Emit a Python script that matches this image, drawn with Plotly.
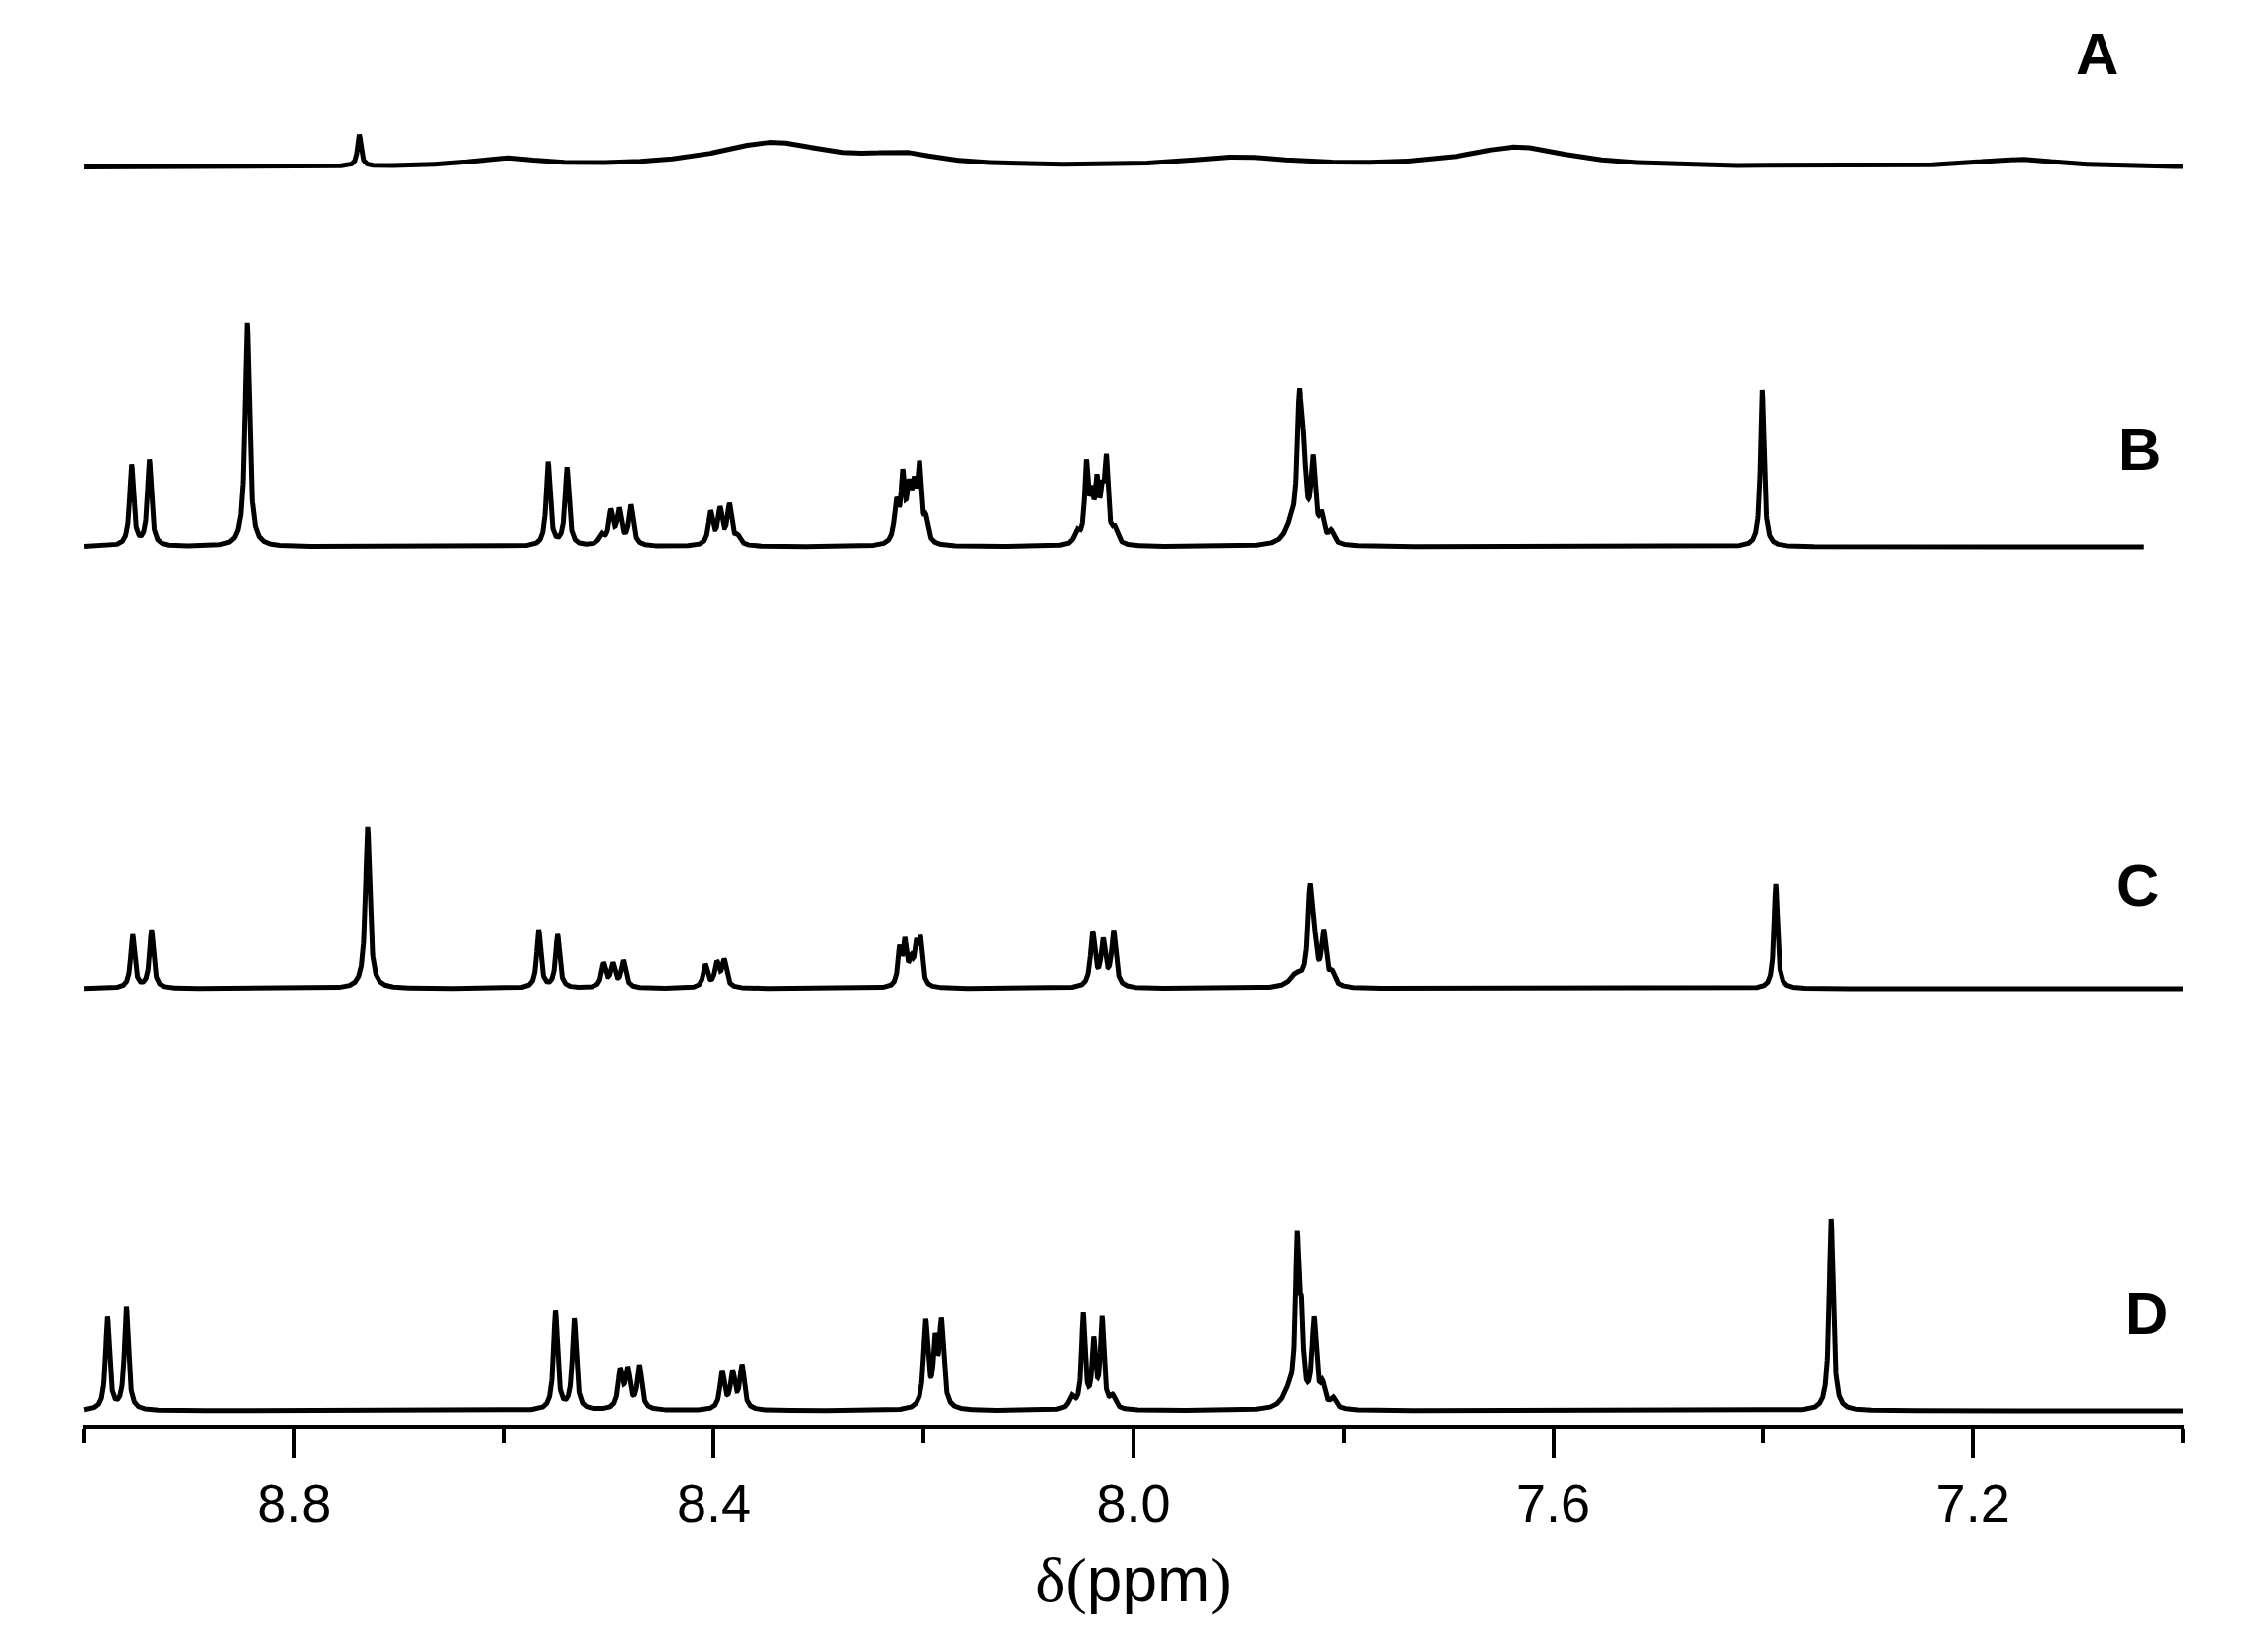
import numpy as np
import plotly.graph_objects as go

# peak lists: position (ppm), height (px-ish units), FWHM (ppm)
A_PPM = [8.738, 8.60, 8.345, 8.22, 7.90, 7.634, 7.158]
A_INT = [32, 8, 24, 10, 9, 20, 8]
A_WID = [0.004, 0.08, 0.13, 0.08, 0.12, 0.12, 0.10]

B_PPM = [8.955, 8.938, 8.845, 8.558, 8.540,
         8.507, 8.498, 8.490, 8.479,
         8.403, 8.394, 8.385, 8.377,
         8.226, 8.220, 8.214, 8.209, 8.204, 8.198,
         8.054, 8.045, 8.040, 8.035, 8.030, 8.026, 8.018,
         7.850, 7.842, 7.838, 7.829, 7.821, 7.812,
         7.401]
B_INT = [82, 87, 226, 85, 79,
         10, 33, 34, 40,
         33, 35, 40, 8,
         40, 62, 48, 48, 70, 22,
         12, 78, 40, 55, 40, 80, 14,
         16, 130, 68, 80, 24, 12,
         158]
B_WID = [0.0045, 0.0045, 0.005, 0.0045, 0.0045,
         0.006, 0.005, 0.005, 0.005,
         0.005, 0.005, 0.005, 0.006,
         0.005, 0.004, 0.005, 0.005, 0.004, 0.005,
         0.006, 0.004, 0.004, 0.004, 0.004, 0.004, 0.006,
         0.014, 0.005, 0.005, 0.005, 0.005, 0.006,
         0.004]

C_PPM = [8.954, 8.936, 8.730, 8.567, 8.549,
         8.505, 8.496, 8.486,
         8.408, 8.397, 8.390,
         8.223, 8.218, 8.212, 8.207, 8.203,
         8.039, 8.029, 8.019,
         7.845, 7.832, 7.828, 7.819, 7.811,
         7.388]
C_INT = [54, 59, 163, 59, 54,
         24, 23, 27,
         23, 24, 27,
         36, 42, 22, 36, 44,
         55, 45, 56,
         12, 92, 35, 52, 12,
         106]
C_WID = [0.0045, 0.0045, 0.005, 0.0045, 0.0045,
         0.005, 0.005, 0.005,
         0.005, 0.005, 0.005,
         0.004, 0.004, 0.005, 0.004, 0.004,
         0.005, 0.005, 0.005,
         0.014, 0.005, 0.005, 0.005, 0.006,
         0.004]

D_PPM = [8.978, 8.960, 8.551, 8.533,
         8.489, 8.482, 8.471,
         8.392, 8.382, 8.373,
         8.198, 8.189, 8.183,
         8.059, 8.048, 8.038, 8.030, 8.020,
         7.852, 7.844, 7.840, 7.828, 7.820, 7.810,
         7.335]
D_INT = [94, 104, 100, 92,
         38, 38, 44,
         38, 36, 44,
         88, 60, 86,
         12, 95, 66, 90, 12,
         16, 158, 75, 88, 20, 10,
         194]
D_WID = [0.0045, 0.0045, 0.0045, 0.0045,
         0.005, 0.005, 0.005,
         0.005, 0.005, 0.005,
         0.005, 0.004, 0.005,
         0.006, 0.004, 0.004, 0.004, 0.006,
         0.014, 0.004, 0.004, 0.005, 0.005, 0.006,
         0.0045]

LABELS = ["A", "B", "C", "D"]
PEAKS = [(A_PPM, A_INT, A_WID), (B_PPM, B_INT, B_WID),
         (C_PPM, C_INT, C_WID), (D_PPM, D_INT, D_WID)]
ENDS = [7.0, 7.037, 7.0, 7.0]          # where each trace stops on the right

# vertical stacking (same units as intensities), label positions
OFFSETS = [1269, 886, 440, 14]
LABEL_X = [7.082, 7.041, 7.043, 7.034]
LABEL_Y = [1384, 985, 545, 113]


def lorentz_sum(x, pos, hts, wids):
    y = np.zeros_like(x)
    for p, h, w in zip(pos, hts, wids):
        g = (w / 2) ** 2
        y += h * g / ((x - p) ** 2 + g)
    return y


fig = go.Figure()
for lab, (pos, hts, wids), end, off in zip(LABELS, PEAKS, ENDS, OFFSETS):
    x = np.linspace(9.0, end, int((9.0 - end) * 4000) + 1)
    y = lorentz_sum(x, pos, hts, wids) + off
    fig.add_trace(go.Scatter(x=x, y=y, mode="lines", name=lab,
                             line=dict(color="black", width=5), showlegend=False))

for lab, lx, ly in zip(LABELS, LABEL_X, LABEL_Y):
    fig.add_annotation(x=lx, y=ly, text="<b>%s</b>" % lab, showarrow=False,
                       font=dict(family="Liberation Sans, Arial", size=60, color="black"))

serif = '<span style="font-family:Liberation Serif, Times New Roman">%s</span>'
fig.update_layout(
    width=2289, height=1660,
    paper_bgcolor="white", plot_bgcolor="white",
    margin=dict(l=76, r=93, t=0, b=230),
    font=dict(family="Liberation Sans, Arial", color="black"),
)
fig.update_xaxes(
    range=[9.001, 6.999], showgrid=False, zeroline=False,
    showline=True, linewidth=4, linecolor="black",
    ticks="outside", ticklen=29, tickwidth=4, tickcolor="black",
    tickvals=[8.8, 8.4, 8.0, 7.6, 7.2], ticktext=["8.8", "8.4", "8.0", "7.6", "7.2"],
    tickfont=dict(size=54), ticklabelstandoff=0,
    minor=dict(ticks="outside", ticklen=14, tickwidth=4, tickcolor="black",
               tickvals=[9.0, 8.6, 8.2, 7.8, 7.4, 7.0]),
    title=dict(text=serif % "δ(" + "ppm" + serif % ")", font=dict(size=64), standoff=26),
)
fig.update_yaxes(range=[0, 1430], visible=False)

fig.write_html("out.html")
